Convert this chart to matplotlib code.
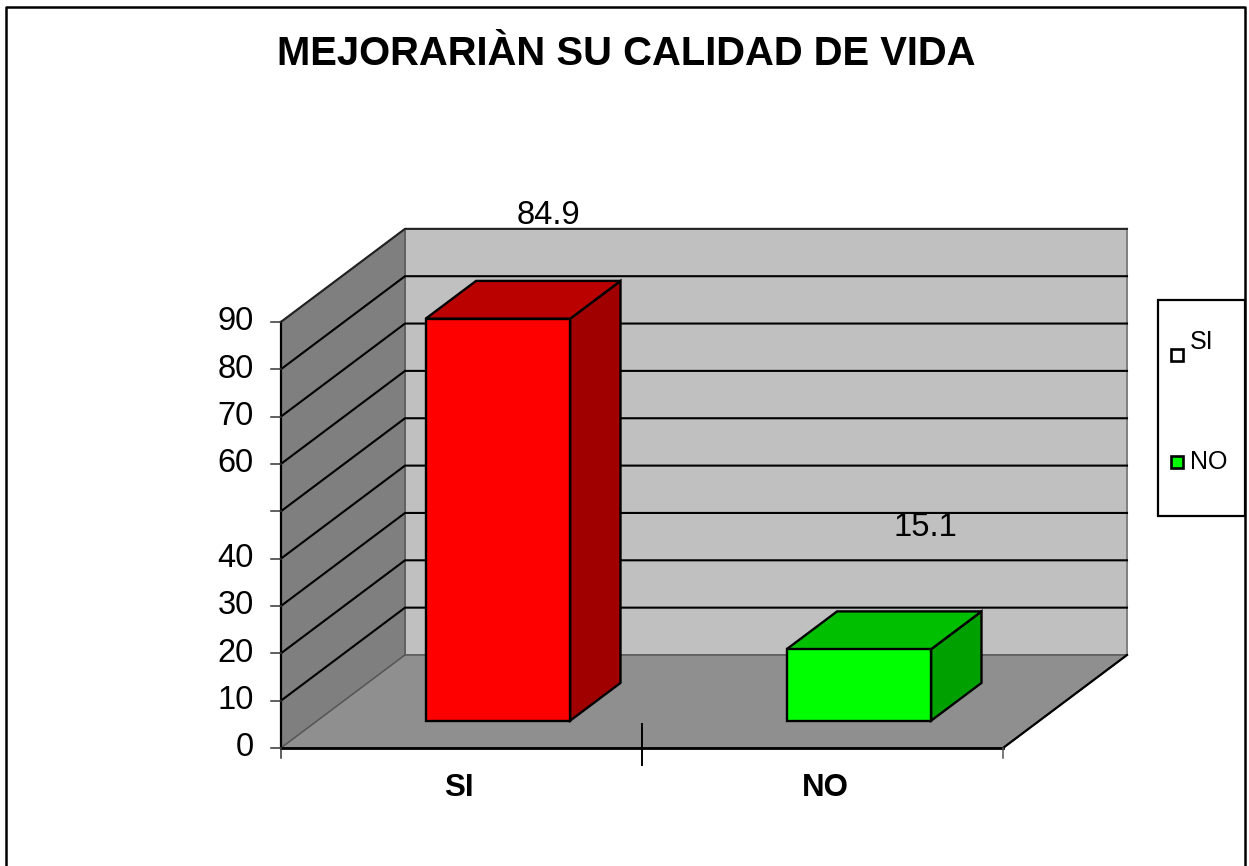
import matplotlib
matplotlib.use('Agg')
import matplotlib.pyplot as plt
from matplotlib.patches import Polygon, Rectangle

plt.rcParams['font.family'] = ['Liberation Sans', 'DejaVu Sans']

categories = ['SI', 'NO']
values = [84.9, 15.1]
tick_values = [0, 10, 20, 30, 40, 50, 60, 70, 80, 90]
tick_labels = ['0', '10', '20', '30', '40', '', '60', '70', '80', '90']
title = 'MEJORARIÀN SU CALIDAD DE VIDA'

W, H = 1249, 866
X0, X_STEP = 281, 361        # pixel of left wall, pixels per category
Y0, Y_STEP = 748, 4.735      # pixel of zero, pixels per unit
DEPTH_X = 124 / X_STEP       # depth of the box in data units
DEPTH_Y = 93 / Y_STEP
BAR_W = 0.4
BAR_FRONT = 0.2935
BAR_BACK = 0.70

fig = plt.figure(figsize=(W / 100, H / 100), dpi=100)
ax = fig.add_axes([0, 0, 1, 1])
ax.set_xlim(-0.5 - X0 / X_STEP, -0.5 + (W - X0) / X_STEP)
ax.set_ylim(-(H - Y0) / Y_STEP, Y0 / Y_STEP)
ax.axis('off')


def poly(points, color, edge='black', lw=1.7, z=2):
    ax.add_patch(Polygon(points, closed=True, facecolor=color, edgecolor=edge,
                         linewidth=lw, zorder=z, joinstyle='miter'))


def px(x, y):
    return x / W, 1 - y / H


# outer frame, runs off the bottom of the picture
fig.add_artist(plt.Line2D([5.5 / W, 5.5 / W, 1244.5 / W, 1244.5 / W],
                          [0, 1 - 7 / H, 1 - 7 / H, 0], color='black', lw=1.8))

xl, xr = -0.5, 1.5
top = max(tick_values)

# walls and floor
poly([(xl + DEPTH_X, DEPTH_Y), (xr + DEPTH_X, DEPTH_Y),
      (xr + DEPTH_X, top + DEPTH_Y), (xl + DEPTH_X, top + DEPTH_Y)],
     '#c0c0c0', edge='#808080', lw=1.4, z=1)
poly([(xl, 0), (xl + DEPTH_X, DEPTH_Y), (xl + DEPTH_X, top + DEPTH_Y), (xl, top)],
     '#7f7f7f', edge='#555555', lw=1.0, z=1)
poly([(xl, 0), (xr, 0), (xr + DEPTH_X, DEPTH_Y), (xl + DEPTH_X, DEPTH_Y)],
     '#8f8f8f', edge='#555555', lw=1.0, z=1)

# gridlines along left wall and back wall
for v in tick_values[1:-1]:
    ax.plot([xl, xl + DEPTH_X, xr + DEPTH_X], [v, v + DEPTH_Y, v + DEPTH_Y],
            color='black', lw=1.5, zorder=1.5, solid_joinstyle='miter')
ax.plot([xl, xl + DEPTH_X, xr + DEPTH_X], [top, top + DEPTH_Y, top + DEPTH_Y],
        color='#222222', lw=1.5, zorder=1.5, solid_joinstyle='miter')
ax.plot([xr + DEPTH_X, xr], [DEPTH_Y, 0], color='black', lw=1.6, zorder=1.6)

# axis lines
ax.plot([xl, xl], [0, top], color='black', lw=1.6, zorder=3)
ax.plot([xl, xr], [0, 0], color='black', lw=2.0, zorder=3)

# y ticks and labels
tick_len = 10 / X_STEP
for v, lab in zip(tick_values, tick_labels):
    ax.plot([xl - tick_len, xl], [v, v], color='#333333', lw=1.1, zorder=3)
    ax.text(xl - 27 / X_STEP, v, lab, ha='right', va='center', fontsize=23.5, color='black')

# x ticks
ax.plot([xl, xl], [0, -10 / Y_STEP], color='#333333', lw=1.1, zorder=3)
ax.plot([xr, xr], [0, -10 / Y_STEP], color='#555555', lw=1.1, zorder=3)
ax.plot([0.5, 0.5], [-17 / Y_STEP, 24 / Y_STEP], color='black', lw=1.4, zorder=3)

# bars
colors = [('#ff0000', '#bb0000', '#a00000'), ('#00ff00', '#00bf00', '#00a000')]
for i, (cat, val) in enumerate(zip(categories, values)):
    face, lid, side = colors[i]
    l = i - BAR_W / 2 + BAR_FRONT * DEPTH_X
    r = l + BAR_W
    b = BAR_FRONT * DEPTH_Y
    t = b + val
    dx = (BAR_BACK - BAR_FRONT) * DEPTH_X
    dy = (BAR_BACK - BAR_FRONT) * DEPTH_Y
    poly([(r, b), (r + dx, b + dy), (r + dx, t + dy), (r, t)], side, z=4)
    poly([(l, t), (r, t), (r + dx, t + dy), (l + dx, t + dy)], lid, z=4)
    poly([(l, b), (r, b), (r, t), (l, t)], face, z=5)
    ax.text(i + (i - 0.5) * 5 / X_STEP, -40 / Y_STEP, cat, ha='center', va='center',
            fontsize=22.5, fontweight='bold', color='black')

# value labels
ax.text(*ax.transData.inverted().transform((548, H - 216)), f'{values[0]}', ha='center',
        va='center', fontsize=23.5, color='black', zorder=6)
ax.text(*ax.transData.inverted().transform((925, H - 528)), f'{values[1]}', ha='center',
        va='center', fontsize=23.5, color='black', zorder=6)

fig.text(626 / W, 1 - 54 / H, title, ha='center', va='center', fontsize=28.8,
         fontweight='bold', color='black')

# legend box, right side shares the outer frame
lx, ly = px(1158, 516)
lw_, lh = 1244.5 / W - lx, 216 / H
fig.add_artist(Rectangle((lx, ly), lw_, lh, transform=fig.transFigure, facecolor='white',
                         edgecolor='black', linewidth=1.6))
for (sy, ty, name, col) in [(355, 342, categories[0], 'white'), (462, 462, categories[1], '#00ff00')]:
    sx0, sy0 = px(1170.5, sy + 6)
    fig.add_artist(Rectangle((sx0, sy0), 12 / W, 12 / H, transform=fig.transFigure,
                             facecolor=col, edgecolor='black', linewidth=1.9))
    fig.text(1190 / W, 1 - ty / H, name, ha='left', va='center', fontsize=18, color='black')

fig.savefig('out.png', dpi=100)
